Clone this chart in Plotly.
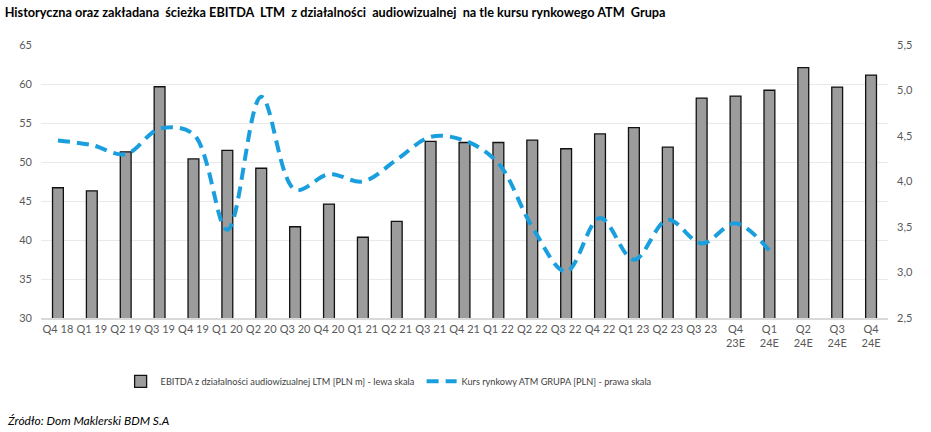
import plotly.graph_objects as go

categories = ["Q4 18", "Q1 19", "Q2 19", "Q3 19", "Q4 19", "Q1 20", "Q2 20", "Q3 20", "Q4 20",
              "Q1 21", "Q2 21", "Q3 21", "Q4 21", "Q1 22", "Q2 22", "Q3 22", "Q4 22",
              "Q1 23", "Q2 23", "Q3 23", "Q4<br>23E", "Q1<br>24E", "Q2<br>24E", "Q3<br>24E", "Q4<br>24E"]

ebitda = [46.7, 46.3, 51.3, 59.65, 50.4, 51.5, 49.2, 41.7, 44.6,
          40.35, 42.4, 52.65, 52.5, 52.5, 52.8, 51.7, 53.6,
          54.4, 51.9, 58.2, 58.45, 59.2, 62.1, 59.6, 61.15]

price = [4.45, 4.40, 4.30, 4.58, 4.52, 3.47, 4.93, 3.91, 4.08,
         4.00, 4.24, 4.49, 4.45, 4.20, 3.50, 3.01, 3.60,
         3.14, 3.58, 3.32, 3.54, 3.24, None, None, None]

left_ticks = [30, 35, 40, 45, 50, 55, 60, 65]
right_ticks = [2.5, 3.0, 3.5, 4.0, 4.5, 5.0, 5.5]

title_text = "Historyczna oraz zakładana  ścieżka EBITDA  LTM  z działalności  audiowizualnej  na tle kursu rynkowego ATM  Grupa"
bar_name = "EBITDA z działalności audiowizualnej LTM [PLN m] - lewa skala"
line_name = "Kurs rynkowy ATM GRUPA [PLN] - prawa skala"
source_text = "<i>Źródło: Dom Maklerski BDM S.A</i>"

FONT = "Lato"

fig = go.Figure()
fig.add_trace(go.Bar(
    x=categories, y=ebitda, name=bar_name,
    marker=dict(color="#9C9C9C", line=dict(color="#111111", width=1.3)),
    width=0.32, yaxis="y",
))
fig.add_trace(go.Scatter(
    x=categories, y=price, name=line_name, mode="lines",
    line=dict(color="#1A9FDE", width=4, dash="12px,7px", shape="spline", smoothing=1.0),
    yaxis="y2", connectgaps=False,
))

fig.update_layout(
    width=931, height=432,
    margin=dict(l=41, r=43, t=45, b=114),
    paper_bgcolor="white", plot_bgcolor="white",
    separators=", ",
    font=dict(family=FONT, size=11, color="#595959"),
    title=dict(text="<b>" + title_text + "</b>", x=0.005, xanchor="left", y=0.972, yanchor="middle",
               font=dict(family=FONT, size=12.7, color="#000000")),
    showlegend=True,
    legend=dict(orientation="h", x=0.094, xanchor="left", y=-0.232, yanchor="middle",
                font=dict(family=FONT, size=9.2, color="#404040"),
                entrywidth=256, entrywidthmode="pixels", bgcolor="rgba(0,0,0,0)"),
    xaxis=dict(type="category", showgrid=False, showline=True, linecolor="#D9D9D9", linewidth=1.5,
               ticks="", tickfont=dict(size=11, color="#595959"), range=[-0.5, 24.5]),
    yaxis=dict(range=[30, 65], tickvals=left_ticks, showgrid=True, gridcolor="#E9E9E9", gridwidth=1,
               zeroline=False, ticks="", tickfont=dict(size=11, color="#595959"), ticklabelstandoff=8),
    yaxis2=dict(range=[2.5, 5.5], tickvals=right_ticks, tickformat=".1f", overlaying="y", side="right",
                showgrid=False, zeroline=False, ticks="", tickfont=dict(size=11, color="#595959"),
                ticklabelstandoff=8),
    bargap=0.68,
)

fig.add_annotation(text=source_text, xref="paper", yref="paper", x=-0.0425, y=-0.374,
                   xanchor="left", yanchor="middle", showarrow=False,
                   font=dict(family=FONT, size=12, color="#000000"))

fig.write_html("out.html", config={"displayModeBar": False},
               post_script="document.body.style.margin='0';")
